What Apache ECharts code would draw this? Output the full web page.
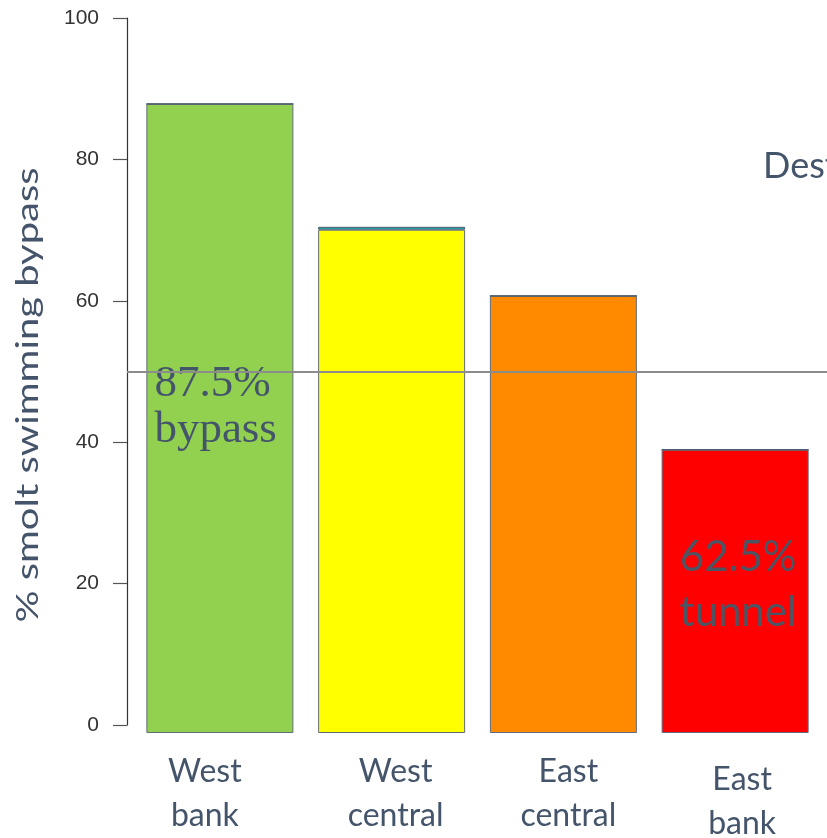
<!DOCTYPE html>
<html>
<head>
<meta charset="utf-8">
<script src="https://cdn.jsdelivr.net/npm/echarts@6/dist/echarts.min.js"></script>
<style>
  html, body { margin: 0; padding: 0; background: #ffffff; }
  #chart { width: 827px; height: 838px; }
</style>
</head>
<body>
<div id="chart"></div>
<script>
// Bypass share by release position
const categories = ['West\nbank', 'West\ncentral', 'East\ncentral', 'East\nbank'];
const bypassPct = [87.5, 70.0, 60.8, 39.4];
const topStripPct = [0, 0.4, 0, 0];
const barColors = ['#92d050', '#ffff00', '#ff8a00', '#ff0000'];
const barNotes = ['87.5%\nbypass', '', '', '62.5%\ntunnel'];
const yMin = 0, yMax = 100, yStep = 20;
const referenceLevel = 50;
const yTitle = '% smolt swimming bypass';
const sideText = 'Destination';

const textColor = '#44546a';
const chart = echarts.init(document.getElementById('chart'), null, { renderer: 'canvas' });

// stretch the rotated axis title along its reading direction
const titleFont = '31px Lato';
const titleLength = 455;
const ctx = document.createElement('canvas').getContext('2d');
ctx.font = titleFont;
const titleScale = titleLength / ctx.measureText(yTitle).width;

const labelShift = [
  { padding: [0, 30, 0, 0] },
  { padding: [0, 0, 0, 8] },
  { padding: [0, 0, 0, 10] },
  { padding: [8, 0, 0, 14] }
];

const noteStyles = [
  { position: 'insideLeft', distance: 8, offset: [0, -11], fontFamily: 'Liberation Serif', fontSize: 45, lineHeight: 46, color: textColor },
  {}, {},
  { position: 'inside', offset: [3, -6], fontFamily: 'Lato', fontSize: 42, lineHeight: 55, color: '#4b5563' }
];

chart.setOption({
  animation: false,
  backgroundColor: '#ffffff',
  grid: [
    { left: 127, right: 0, top: 18, bottom: 113, outerBoundsMode: 'none', containLabel: false },
    { left: 134, right: 6, top: 14, bottom: 105, outerBoundsMode: 'none', containLabel: false }
  ],
  xAxis: [
    { gridIndex: 0, type: 'value', min: 0, max: 1, show: false },
    {
      gridIndex: 1, type: 'category',
      data: categories.map((c, i) => ({ value: c, textStyle: labelShift[i] })),
      axisLine: { show: false }, axisTick: { show: false },
      axisLabel: { margin: 17, fontFamily: 'Lato', fontSize: 32, lineHeight: 44, color: textColor, interval: 0 }
    }
  ],
  yAxis: [
    {
      gridIndex: 0, type: 'value', min: yMin, max: yMax, interval: yStep,
      axisLine: { show: true, lineStyle: { color: '#333333', width: 1.2 } },
      axisTick: { show: true, length: 14, lineStyle: { color: '#555555', width: 1.2 } },
      axisLabel: { margin: 28, fontFamily: 'Liberation Sans', fontSize: 21, color: '#333333' },
      splitLine: { show: false }
    },
    { gridIndex: 1, type: 'value', min: yMin, max: yMax, show: false, splitLine: { show: false } }
  ],
  series: [
    {
      type: 'line', xAxisIndex: 0, yAxisIndex: 0, data: [], z: 1,
      markLine: {
        silent: true, symbol: 'none', animation: false,
        label: { show: false },
        lineStyle: { color: '#8c8c8c', width: 2, type: 'solid' },
        data: [{ yAxis: referenceLevel }]
      }
    },
    {
      type: 'bar', xAxisIndex: 1, yAxisIndex: 1, stack: 'share', z: 3,
      barWidth: 147,
      data: bypassPct.map((v, i) => ({
        value: v,
        itemStyle: { color: barColors[i], borderColor: '#5f6b7a', borderWidth: 1 },
        label: Object.assign({ show: barNotes[i] !== '' }, noteStyles[i])
      })),
      label: { formatter: p => barNotes[p.dataIndex] }
    },
    {
      type: 'bar', xAxisIndex: 1, yAxisIndex: 1, stack: 'share', z: 3,
      barWidth: 147,
      itemStyle: { color: '#1fb5c9', borderColor: '#4a5a6a', borderWidth: 1 },
      data: topStripPct
    }
  ],
  graphic: [
    {
      type: 'text', x: 28, y: 395, rotation: Math.PI / 2, scaleX: titleScale, scaleY: 1,
      style: { text: yTitle, font: titleFont, fill: textColor, align: 'center', verticalAlign: 'middle' }
    },
    {
      type: 'text', x: 763, y: 166,
      style: { text: sideText, font: '36px Lato', fill: textColor, align: 'left', verticalAlign: 'middle' }
    }
  ]
});
</script>
</body>
</html>
